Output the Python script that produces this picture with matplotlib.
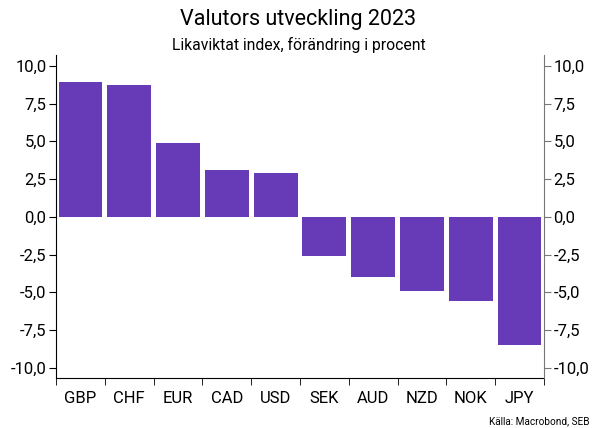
import matplotlib
matplotlib.use("Agg")
import matplotlib.pyplot as plt
import numpy as np
from matplotlib.ticker import FuncFormatter, FixedLocator

plt.rcParams['font.family'] = ['Roboto', 'DejaVu Sans']

# data
valutor = ["GBP", "CHF", "EUR", "CAD", "USD", "SEK", "AUD", "NZD", "NOK", "JPY"]
forandring = [8.9, 8.7, 4.9, 3.1, 2.9, -2.6, -4.0, -4.9, -5.6, -8.5]
yticks = [-10, -7.5, -5, -2.5, 0, 2.5, 5, 7.5, 10]

fig = plt.figure(figsize=(5.97, 4.28), dpi=100)
ax = fig.add_axes([0.094, 0.116, 0.817, 0.755])

x = np.arange(len(valutor))
ax.bar(x, forandring, width=0.9, color='#673ab7', edgecolor='none')

ax.set_xlim(-0.5, len(valutor) - 0.5)
ax.set_ylim(-10.7, 10.7)

fmt = FuncFormatter(lambda v, p: f"{v:.1f}".replace('.', ','))
ax.set_yticks(yticks)
ax.yaxis.set_major_formatter(fmt)
ax.tick_params(axis='y', which='major', length=5, direction='out', labelsize=12, pad=2)

# right axis
ax2 = ax.twinx()
ax2.set_ylim(ax.get_ylim())
ax2.set_yticks(yticks)
ax2.yaxis.set_major_formatter(fmt)
ax2.tick_params(axis='y', length=5, direction='out', labelsize=12, pad=2, color='#777777')
for s in ['top', 'left', 'bottom']:
    ax2.spines[s].set_visible(False)
ax2.spines['right'].set_color('#777777')

ax.set_xticks(x)
ax.set_xticklabels(valutor)
ax.xaxis.set_minor_locator(FixedLocator(np.arange(-0.5, len(valutor), 1.0)))
ax.tick_params(axis='x', which='major', length=0, labelsize=12, pad=9)
ax.tick_params(axis='x', which='minor', length=5, direction='out')

ax.spines['top'].set_visible(False)
ax.spines['right'].set_visible(False)

fig.text(0.5, 0.955, "Valutors utveckling 2023", ha='center', va='center', fontsize=15.5)
fig.text(0.5, 0.895, "Likaviktat index, förändring i procent", ha='center', va='center', fontsize=11.3)
fig.text(0.988, 0.005, "Källa: Macrobond, SEB", ha='right', va='bottom', fontsize=7.2)

fig.savefig("out.png", dpi=100)
